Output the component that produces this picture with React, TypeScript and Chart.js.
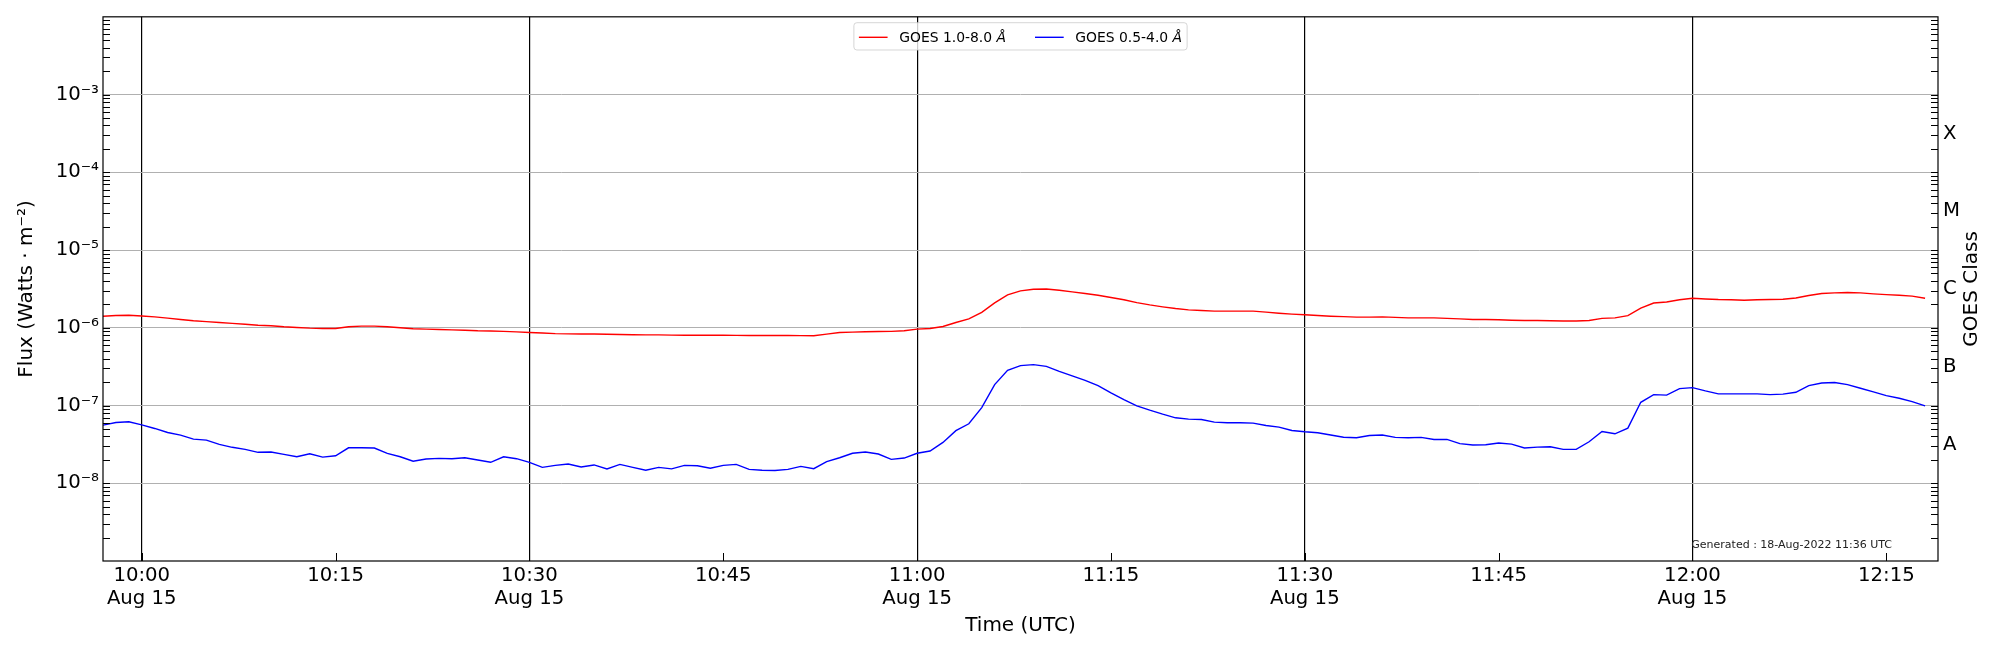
import { useEffect, useRef } from "react"
import { Chart, registerables } from "chart.js"

Chart.register(...registerables)

// GOES XRS one-minute averages, 15 Aug 2022, first sample at 09:57 UT
// x values are minutes after 10:00 UT
const firstMinute = -3

// 1.0-8.0 A channel (W/m^2)
const xrsLong = [
  1.41e-6, 1.44e-6, 1.45e-6, 1.42e-6, 1.38e-6, 1.33e-6, 1.28e-6, 1.23e-6, 1.2e-6, 1.17e-6,
  1.14e-6, 1.11e-6, 1.08e-6, 1.06e-6, 1.03e-6, 1.01e-6, 9.9e-7, 9.8e-7, 9.8e-7, 1.03e-6,
  1.05e-6, 1.05e-6, 1.03e-6, 1.0e-6, 9.7e-7, 9.6e-7, 9.5e-7, 9.4e-7, 9.3e-7, 9.15e-7,
  9.1e-7, 9.0e-7, 8.85e-7, 8.7e-7, 8.55e-7, 8.4e-7, 8.35e-7, 8.3e-7, 8.3e-7, 8.25e-7,
  8.2e-7, 8.15e-7, 8.1e-7, 8.1e-7, 8.05e-7, 8.0e-7, 8.0e-7, 8.0e-7, 8.0e-7, 7.98e-7,
  7.96e-7, 7.95e-7, 7.95e-7, 7.94e-7, 7.92e-7, 7.9e-7, 8.3e-7, 8.7e-7, 8.8e-7, 8.9e-7,
  8.95e-7, 9.0e-7, 9.15e-7, 9.6e-7, 9.8e-7, 1.04e-6, 1.17e-6, 1.3e-6, 1.58e-6, 2.09e-6,
  2.65e-6, 2.98e-6, 3.13e-6, 3.16e-6, 3.04e-6, 2.9e-6, 2.76e-6, 2.62e-6, 2.45e-6, 2.29e-6,
  2.11e-6, 1.97e-6, 1.86e-6, 1.77e-6, 1.7e-6, 1.67e-6, 1.64e-6, 1.64e-6, 1.64e-6, 1.64e-6,
  1.59e-6, 1.54e-6, 1.5e-6, 1.47e-6, 1.44e-6, 1.41e-6, 1.39e-6, 1.37e-6, 1.37e-6, 1.38e-6,
  1.36e-6, 1.34e-6, 1.34e-6, 1.34e-6, 1.32e-6, 1.3e-6, 1.28e-6, 1.28e-6, 1.27e-6, 1.25e-6,
  1.24e-6, 1.24e-6, 1.23e-6, 1.22e-6, 1.22e-6, 1.24e-6, 1.32e-6, 1.34e-6, 1.43e-6, 1.79e-6,
  2.08e-6, 2.15e-6, 2.29e-6, 2.4e-6, 2.35e-6, 2.31e-6, 2.29e-6, 2.26e-6, 2.29e-6, 2.31e-6,
  2.33e-6, 2.42e-6, 2.6e-6, 2.76e-6, 2.81e-6, 2.84e-6, 2.81e-6, 2.73e-6, 2.67e-6, 2.62e-6,
  2.55e-6, 2.4e-6,
]

// 0.5-4.0 A channel (W/m^2)
const xrsShort = [
  5.59e-8, 6.05e-8, 6.17e-8, 5.63e-8, 5.07e-8, 4.5e-8, 4.16e-8, 3.7e-8, 3.59e-8, 3.16e-8,
  2.9e-8, 2.73e-8, 2.5e-8, 2.52e-8, 2.35e-8, 2.19e-8, 2.4e-8, 2.17e-8, 2.26e-8, 2.86e-8,
  2.86e-8, 2.84e-8, 2.42e-8, 2.19e-8, 1.92e-8, 2.05e-8, 2.09e-8, 2.07e-8, 2.13e-8, 1.99e-8,
  1.86e-8, 2.19e-8, 2.07e-8, 1.86e-8, 1.6e-8, 1.7e-8, 1.77e-8, 1.62e-8, 1.72e-8, 1.53e-8,
  1.75e-8, 1.6e-8, 1.47e-8, 1.6e-8, 1.53e-8, 1.7e-8, 1.68e-8, 1.56e-8, 1.7e-8, 1.75e-8,
  1.51e-8, 1.47e-8, 1.46e-8, 1.51e-8, 1.65e-8, 1.54e-8, 1.9e-8, 2.13e-8, 2.43e-8, 2.52e-8,
  2.38e-8, 2.03e-8, 2.11e-8, 2.43e-8, 2.6e-8, 3.35e-8, 4.75e-8, 5.82e-8, 9.4e-8, 1.86e-7,
  2.84e-7, 3.26e-7, 3.36e-7, 3.19e-7, 2.75e-7, 2.4e-7, 2.11e-7, 1.8e-7, 1.45e-7, 1.19e-7,
  9.9e-8, 8.71e-8, 7.74e-8, 6.95e-8, 6.68e-8, 6.62e-8, 6.11e-8, 6.0e-8, 6.0e-8, 5.94e-8,
  5.54e-8, 5.28e-8, 4.78e-8, 4.59e-8, 4.46e-8, 4.17e-8, 3.91e-8, 3.85e-8, 4.12e-8, 4.17e-8,
  3.89e-8, 3.85e-8, 3.89e-8, 3.66e-8, 3.66e-8, 3.23e-8, 3.1e-8, 3.13e-8, 3.29e-8, 3.19e-8,
  2.84e-8, 2.92e-8, 2.95e-8, 2.73e-8, 2.73e-8, 3.42e-8, 4.64e-8, 4.33e-8, 5.12e-8, 1.1e-7,
  1.38e-7, 1.36e-7, 1.65e-7, 1.7e-7, 1.54e-7, 1.41e-7, 1.41e-7, 1.41e-7, 1.41e-7, 1.38e-7,
  1.4e-7, 1.48e-7, 1.8e-7, 1.95e-7, 1.98e-7, 1.86e-7, 1.67e-7, 1.5e-7, 1.34e-7, 1.24e-7,
  1.12e-7, 9.9e-8,
]

const xTicks = [0, 15, 30, 45, 60, 75, 90, 105, 120, 135]
const xTickLabels = [
  ["10:00", "Aug 15"], "10:15", ["10:30", "Aug 15"], "10:45", ["11:00", "Aug 15"],
  "11:15", ["11:30", "Aug 15"], "11:45", ["12:00", "Aug 15"], "12:15",
]
const fluxTicks = [1e-8, 1e-7, 1e-6, 1e-5, 1e-4, 1e-3]
const fluxTickLabels = ["10⁻⁸", "10⁻⁷", "10⁻⁶", "10⁻⁵", "10⁻⁴", "10⁻³"]
const classTicks = [3.16e-8, 3.16e-7, 3.16e-6, 3.16e-5, 3.16e-4]
const classLabels = ["A", "B", "C", "M", "X"]

const FONT = '"DejaVu Sans", sans-serif'

// ticks, frame, legend box and footnote, drawn the way matplotlib does them
const goesDecorations = {
  id: "goesDecorations",
  afterDraw(chart: any) {
    const { ctx, chartArea: a, scales } = chart
    const y = scales.y
    const x = scales.x
    ctx.save()

    ctx.strokeStyle = "#000"
    ctx.lineWidth = 1
    ctx.beginPath()
    for (let d = -9; d < -2; d++) {
      for (let k = 1; k <= 9; k++) {
        const py = Math.round(y.getPixelForValue(k * Math.pow(10, d))) + 0.5
        if (py < a.top || py > a.bottom) continue
        ctx.moveTo(a.left, py)
        ctx.lineTo(a.left + 7, py)
        ctx.moveTo(a.right, py)
        ctx.lineTo(a.right - 7, py)
      }
    }
    for (const t of xTicks) {
      const px = Math.round(x.getPixelForValue(t)) + 0.5
      ctx.moveTo(px, a.bottom)
      ctx.lineTo(px, a.bottom - 8)
    }
    ctx.stroke()

    ctx.lineWidth = 1.2
    ctx.strokeRect(a.left, a.top, a.right - a.left, a.bottom - a.top)

    // right axis title
    ctx.fillStyle = "#000"
    ctx.font = `20px ${FONT}`
    ctx.textAlign = "center"
    ctx.textBaseline = "middle"
    ctx.translate(1972, (a.top + a.bottom) / 2)
    ctx.rotate(-Math.PI / 2)
    ctx.fillText("GOES Class", 0, 0)
    ctx.setTransform(1, 0, 0, 1, 0, 0)

    // legend
    const regular = `13.9px ${FONT}`
    const italic = `italic 13.9px ${FONT}`
    const entries = chart.data.datasets.map((ds: any) => {
      const label = ds.label as string
      const base = label.slice(0, -1)
      const unit = label.slice(-1)
      ctx.font = regular
      const wb = ctx.measureText(base).width
      ctx.font = italic
      const wu = ctx.measureText(unit).width
      return { base, unit, wb, wu, color: ds.borderColor }
    })
    const pad = 5
    const handle = 28.7
    const gap = 11.6
    const colGap = 29
    let total = pad * 2 + colGap * (entries.length - 1)
    for (const e of entries) total += handle + gap + e.wb + e.wu
    const bx = (a.left + a.right) / 2 - total / 2
    const by = 22.7
    const bh = 27.3
    ctx.beginPath()
    ctx.roundRect(bx, by, total, bh, 3)
    ctx.fillStyle = "rgba(255,255,255,0.8)"
    ctx.fill()
    ctx.strokeStyle = "rgba(204,204,204,0.8)"
    ctx.lineWidth = 1
    ctx.stroke()
    let cx = bx + pad
    ctx.textAlign = "left"
    ctx.textBaseline = "alphabetic"
    for (const e of entries) {
      ctx.strokeStyle = e.color
      ctx.lineWidth = 1.4
      ctx.beginPath()
      ctx.moveTo(cx, 37.3)
      ctx.lineTo(cx + handle, 37.3)
      ctx.stroke()
      cx += handle + gap
      ctx.fillStyle = "#000"
      ctx.font = regular
      ctx.fillText(e.base, cx, 42.3)
      ctx.font = italic
      ctx.fillText(e.unit, cx + e.wb, 42.3)
      cx += e.wb + e.wu + colGap
    }

    // footnote
    ctx.font = `11px ${FONT}`
    ctx.fillStyle = "#222"
    ctx.textAlign = "right"
    ctx.fillText("Generated : 18-Aug-2022 11:36 UTC", 1892, 548.3)

    ctx.restore()
  },
}

export default function App() {
  const chartRef = useRef<HTMLCanvasElement>(null)
  const chartInstance = useRef<Chart | null>(null)

  useEffect(() => {
    if (!chartRef.current) return
    document.body.style.margin = "0"

    if (chartInstance.current) {
      chartInstance.current.destroy()
    }

    const data = {
      datasets: [
        {
          label: "GOES 1.0-8.0 Å",
          data: xrsLong.map((v, i) => ({ x: firstMinute + i, y: v })),
          borderColor: "#ff0000",
          borderWidth: 1.4,
          pointRadius: 0,
          tension: 0,
          yAxisID: "y",
        },
        {
          label: "GOES 0.5-4.0 Å",
          data: xrsShort.map((v, i) => ({ x: firstMinute + i, y: v })),
          borderColor: "#0000ff",
          borderWidth: 1.4,
          pointRadius: 0,
          tension: 0,
          yAxisID: "y",
        },
      ],
    }

    const ctx = chartRef.current.getContext("2d")
    if (ctx) {
      chartInstance.current = new Chart(ctx, {
        type: "line",
        data,
        plugins: [goesDecorations],
        options: {
          responsive: false,
          animation: false,
          devicePixelRatio: 1,
          events: [],
          layout: { padding: { top: 15, left: 0, right: 0, bottom: 0 } },
          plugins: {
            legend: { display: false },
            tooltip: { enabled: false },
          },
          scales: {
            x: {
              type: "linear",
              min: -3,
              max: 139,
              afterBuildTicks: (scale: any) => {
                scale.ticks = xTicks.map((v) => ({ value: v }))
              },
              afterFit: (scale: any) => {
                scale.height = 89
              },
              ticks: {
                autoSkip: false,
                maxRotation: 0,
                padding: 3,
                color: "#000",
                font: { family: FONT, size: 19.7, lineHeight: 1.18 },
                callback: (value: any) => xTickLabels[xTicks.indexOf(Number(value))],
              },
              grid: {
                drawTicks: false,
                lineWidth: 1.2,
                color: (c: any) =>
                  c.tick && c.tick.value % 30 === 0 ? "#000" : "rgba(0,0,0,0)",
              },
              border: { display: false },
              title: {
                display: true,
                text: "Time (UTC)",
                color: "#000",
                font: { family: FONT, size: 20, lineHeight: 1.2 },
                padding: { top: 0, bottom: 12 },
              },
            },
            y: {
              type: "logarithmic",
              position: "left",
              min: 1e-9,
              max: 1e-2,
              afterBuildTicks: (scale: any) => {
                scale.ticks = fluxTicks.map((v) => ({ value: v }))
              },
              afterFit: (scale: any) => {
                scale.width = 103
              },
              ticks: {
                padding: 4,
                color: "#000",
                font: { family: FONT, size: 19.7 },
                callback: (value: any) => fluxTickLabels[fluxTicks.indexOf(Number(value))],
              },
              grid: { drawTicks: false, color: "#b0b0b0", lineWidth: 1 },
              border: { display: false },
              title: {
                display: true,
                text: "Flux (Watts · m⁻²)",
                color: "#000",
                font: { family: FONT, size: 20, lineHeight: 1.2 },
                padding: { top: 15, bottom: 0 },
              },
            },
            yClass: {
              type: "logarithmic",
              position: "right",
              min: 1e-9,
              max: 1e-2,
              afterBuildTicks: (scale: any) => {
                scale.ticks = classTicks.map((v) => ({ value: v }))
              },
              afterFit: (scale: any) => {
                scale.width = 62
              },
              ticks: {
                padding: 5,
                color: "#000",
                font: { family: FONT, size: 19.7 },
                callback: (value: any) => classLabels[classTicks.indexOf(Number(value))],
              },
              grid: { display: false, drawTicks: false },
              border: { display: false },
            },
          },
        },
      })
    }

    return () => {
      if (chartInstance.current) {
        chartInstance.current.destroy()
        chartInstance.current = null
      }
    }
  }, [])

  return (
    <div style={{ width: 2000, height: 650 }}>
      <canvas ref={chartRef} width={2000} height={650} />
    </div>
  )
}
